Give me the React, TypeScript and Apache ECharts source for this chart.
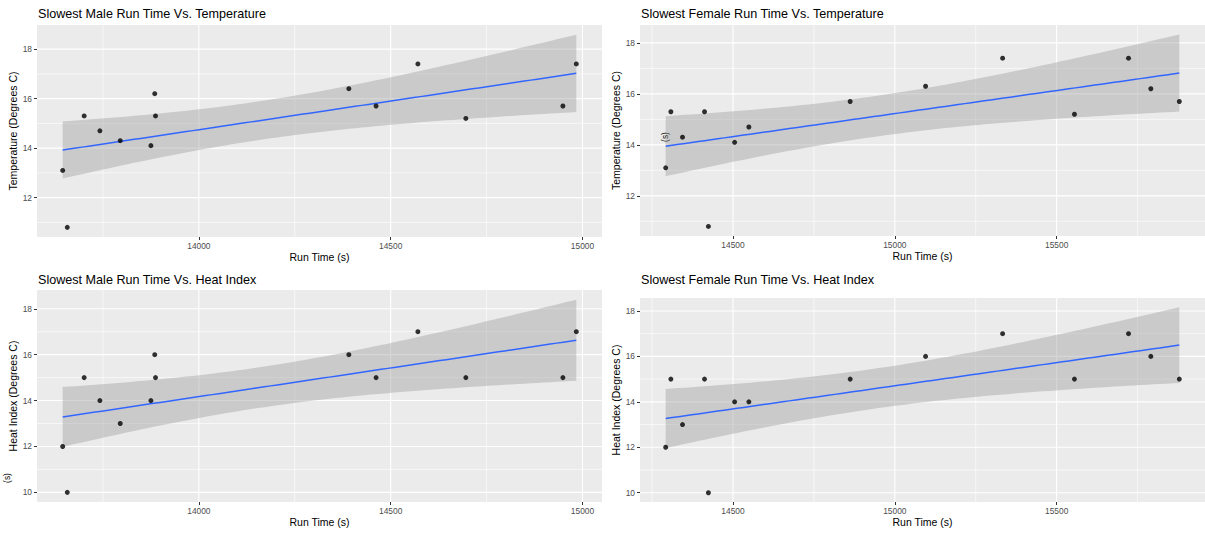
import React, { useEffect, useRef } from "react";
import * as echarts from "echarts";

// Slowest finishing times (s) each year, paired with that day's conditions
const maleRunTime = [13645, 13657, 13701, 13742, 13795, 13875, 13885, 13887, 14391, 14462, 14571, 14696, 14949, 14984];
const maleTemperature = [13.1, 10.8, 15.3, 14.7, 14.3, 14.1, 16.2, 15.3, 16.4, 15.7, 17.4, 15.2, 15.7, 17.4];
const maleHeatIndex = [12, 10, 15, 14, 13, 14, 16, 15, 16, 15, 17, 15, 15, 17];

const femaleRunTime = [14292, 14308, 14344, 14412, 14424, 14505, 14549, 14862, 15095, 15333, 15555, 15722, 15791, 15879];
const femaleTemperature = [13.1, 15.3, 14.3, 15.3, 10.8, 14.1, 14.7, 15.7, 16.3, 17.4, 15.2, 17.4, 16.2, 15.7];
const femaleHeatIndex = [12, 15, 13, 15, 10, 14, 14, 15, 16, 17, 15, 17, 16, 15];

// Axis breaks
const maleTimeTicks = [14000, 14500, 15000];
const maleTimeMinor = [13750, 14250, 14750];
const femaleTimeTicks = [14500, 15000, 15500];
const femaleTimeMinor = [14250, 14750, 15250, 15750];
const degreeTicks = [10, 12, 14, 16, 18];
const degreeMinor = [11, 13, 15, 17];

const FONT = '"Liberation Sans", Arial, sans-serif';
const BG = "#EBEBEB";

// Student t 97.5% quantiles by degrees of freedom
const T975: Record<number, number> = { 8: 2.306, 9: 2.262, 10: 2.228, 11: 2.201, 12: 2.179, 13: 2.16, 14: 2.145, 15: 2.131, 16: 2.12 };

type Pt = [number, number];

// Least-squares line with a 95% confidence band for the mean (as geom_smooth(method = "lm"))
function linearFit(xs: number[], ys: number[], steps = 80) {
  const n = xs.length;
  const mx = xs.reduce((a, b) => a + b, 0) / n;
  const my = ys.reduce((a, b) => a + b, 0) / n;
  let sxx = 0;
  let sxy = 0;
  for (let i = 0; i < n; i++) {
    sxx += (xs[i] - mx) ** 2;
    sxy += (xs[i] - mx) * (ys[i] - my);
  }
  const slope = sxy / sxx;
  const icpt = my - slope * mx;
  let sse = 0;
  for (let i = 0; i < n; i++) sse += (ys[i] - (icpt + slope * xs[i])) ** 2;
  const s = Math.sqrt(sse / (n - 2));
  const t = T975[n - 2] ?? 2.0;
  const lo = Math.min(...xs);
  const hi = Math.max(...xs);
  const fit: Pt[] = [];
  const upper: Pt[] = [];
  const lower: Pt[] = [];
  for (let i = 0; i < steps; i++) {
    const x = lo + ((hi - lo) * i) / (steps - 1);
    const yh = icpt + slope * x;
    const se = s * Math.sqrt(1 / n + (x - mx) ** 2 / sxx);
    fit.push([x, yh]);
    upper.push([x, yh + t * se]);
    lower.push([x, yh - t * se]);
  }
  return { fit, upper, lower };
}

function expand(lo: number, hi: number): [number, number] {
  const pad = (hi - lo) * 0.05;
  return [lo - pad, hi + pad];
}

const panels = [
  {
    title: "Slowest Male Run Time Vs. Temperature",
    yName: "Temperature (Degrees C)",
    xs: maleRunTime, ys: maleTemperature,
    xTicks: maleTimeTicks, xMinor: maleTimeMinor,
    box: { left: 37, top: 25, width: 565, height: 212 },
    titleY: 14,
  },
  {
    title: "Slowest Female Run Time Vs. Temperature",
    yName: "Temperature (Degrees C)",
    xs: femaleRunTime, ys: femaleTemperature,
    xTicks: femaleTimeTicks, xMinor: femaleTimeMinor,
    box: { left: 640, top: 25, width: 565, height: 211 },
    titleY: 14,
  },
  {
    title: "Slowest Male Run Time Vs. Heat Index",
    yName: "Heat Index (Degrees C)",
    xs: maleRunTime, ys: maleHeatIndex,
    xTicks: maleTimeTicks, xMinor: maleTimeMinor,
    box: { left: 37, top: 290, width: 565, height: 212 },
    titleY: 280,
  },
  {
    title: "Slowest Female Run Time Vs. Heat Index",
    yName: "Heat Index (Degrees C)",
    xs: femaleRunTime, ys: femaleHeatIndex,
    xTicks: femaleTimeTicks, xMinor: femaleTimeMinor,
    box: { left: 640, top: 298, width: 565, height: 204 },
    titleY: 280,
  },
];

function buildOption() {
  const grid: any[] = [];
  const xAxis: any[] = [];
  const yAxis: any[] = [];
  const series: any[] = [];
  const graphic: any[] = [];

  panels.forEach((p, i) => {
    const band = linearFit(p.xs, p.ys);
    const [xMin, xMax] = expand(Math.min(...p.xs), Math.max(...p.xs));
    const yLo = Math.min(...p.ys, ...band.lower.map((d) => d[1]));
    const yHi = Math.max(...p.ys, ...band.upper.map((d) => d[1]));
    const [yMin, yMax] = expand(yLo, yHi);

    grid.push({ ...p.box, show: true, backgroundColor: BG, borderWidth: 0, containLabel: false });

    xAxis.push({
      type: "value",
      gridIndex: i,
      min: xMin,
      max: xMax,
      splitLine: { show: false },
      axisLine: { show: false },
      axisTick: { show: true, length: 3, customValues: p.xTicks, lineStyle: { color: "#333333", width: 1 } },
      axisLabel: { customValues: p.xTicks, formatter: (v: number) => String(v), color: "#4D4D4D", fontSize: 8.4, margin: 5, fontFamily: FONT },
      name: "Run Time (s)",
      nameLocation: "middle",
      nameGap: 14,
      nameTextStyle: { fontSize: 10.5, color: "#000", fontFamily: FONT },
    });

    yAxis.push({
      type: "value",
      gridIndex: i,
      min: yMin,
      max: yMax,
      splitLine: { show: false },
      axisLine: { show: false },
      axisTick: { show: true, length: 3, customValues: degreeTicks, lineStyle: { color: "#333333", width: 1 } },
      axisLabel: { customValues: degreeTicks, color: "#4D4D4D", fontSize: 8.4, margin: 5, fontFamily: FONT },
      name: p.yName,
      nameLocation: "middle",
      nameGap: 16,
      nameTextStyle: { fontSize: 10.5, color: "#000", fontFamily: FONT },
    });

    const inX = (v: number) => v >= xMin && v <= xMax;
    const inY = (v: number) => v >= yMin && v <= yMax;

    // panel grid lines (minor then major)
    series.push({
      type: "custom",
      xAxisIndex: i,
      yAxisIndex: i,
      z: 1,
      silent: true,
      data: [[xMin, yMin]],
      renderItem: (params: any, api: any) => {
        const cs = params.coordSys;
        const children: any[] = [];
        const vline = (v: number, w: number) => {
          const px = api.coord([v, yMin])[0];
          children.push({ type: "line", shape: { x1: px, y1: cs.y, x2: px, y2: cs.y + cs.height }, style: { stroke: "#FFFFFF", lineWidth: w } });
        };
        const hline = (v: number, w: number) => {
          const py = api.coord([xMin, v])[1];
          children.push({ type: "line", shape: { x1: cs.x, y1: py, x2: cs.x + cs.width, y2: py }, style: { stroke: "#FFFFFF", lineWidth: w } });
        };
        p.xMinor.filter(inX).forEach((v) => vline(v, 0.6));
        degreeMinor.filter(inY).forEach((v) => hline(v, 0.6));
        p.xTicks.filter(inX).forEach((v) => vline(v, 1.1));
        degreeTicks.filter(inY).forEach((v) => hline(v, 1.1));
        return { type: "group", children };
      },
    });

    // confidence band
    series.push({
      type: "custom",
      xAxisIndex: i,
      yAxisIndex: i,
      z: 2,
      silent: true,
      data: [band.fit[0]],
      renderItem: (_params: any, api: any) => {
        const pts = band.upper.map((d) => api.coord(d)).concat(band.lower.slice().reverse().map((d) => api.coord(d)));
        return { type: "polygon", shape: { points: pts }, style: { fill: "rgba(153,153,153,0.4)", stroke: "none" } };
      },
    });

    // fitted line
    series.push({
      type: "line",
      xAxisIndex: i,
      yAxisIndex: i,
      z: 3,
      silent: true,
      showSymbol: false,
      data: band.fit,
      lineStyle: { color: "#3366FF", width: 1.5 },
    });

    // observations
    series.push({
      type: "scatter",
      xAxisIndex: i,
      yAxisIndex: i,
      z: 4,
      symbolSize: 5,
      itemStyle: { color: "#000000" },
      data: p.xs.map((x, k) => [x, p.ys[k]]),
    });

    graphic.push({
      type: "text",
      left: p.box.left + 1,
      top: p.titleY - 7,
      style: { text: p.title, fontSize: 12.6, fill: "#000", fontFamily: FONT },
    });
  });

  // stray rotated "(s)" labels
  graphic.push({
    type: "text",
    x: 665,
    y: 137,
    rotation: Math.PI / 2,
    style: { text: "(s)", fontSize: 8.4, fill: "#000", fontFamily: FONT, align: "center", verticalAlign: "middle" },
  });
  graphic.push({
    type: "text",
    x: 7,
    y: 478,
    rotation: Math.PI / 2,
    style: { text: "(s)", fontSize: 8.4, fill: "#000", fontFamily: FONT, align: "center", verticalAlign: "middle" },
  });

  return {
    animation: false,
    backgroundColor: "#FFFFFF",
    grid,
    xAxis,
    yAxis,
    series,
    graphic,
  };
}

export default function App() {
  const ref = useRef<HTMLDivElement>(null);
  useEffect(() => {
    if (!ref.current) return;
    const chart = echarts.init(ref.current, undefined, { renderer: "svg" });
    chart.setOption(buildOption() as any);
    return () => chart.dispose();
  }, []);
  return <div ref={ref} style={{ position: "fixed", left: 0, top: 0, width: 1205, height: 536 }} />;
}
